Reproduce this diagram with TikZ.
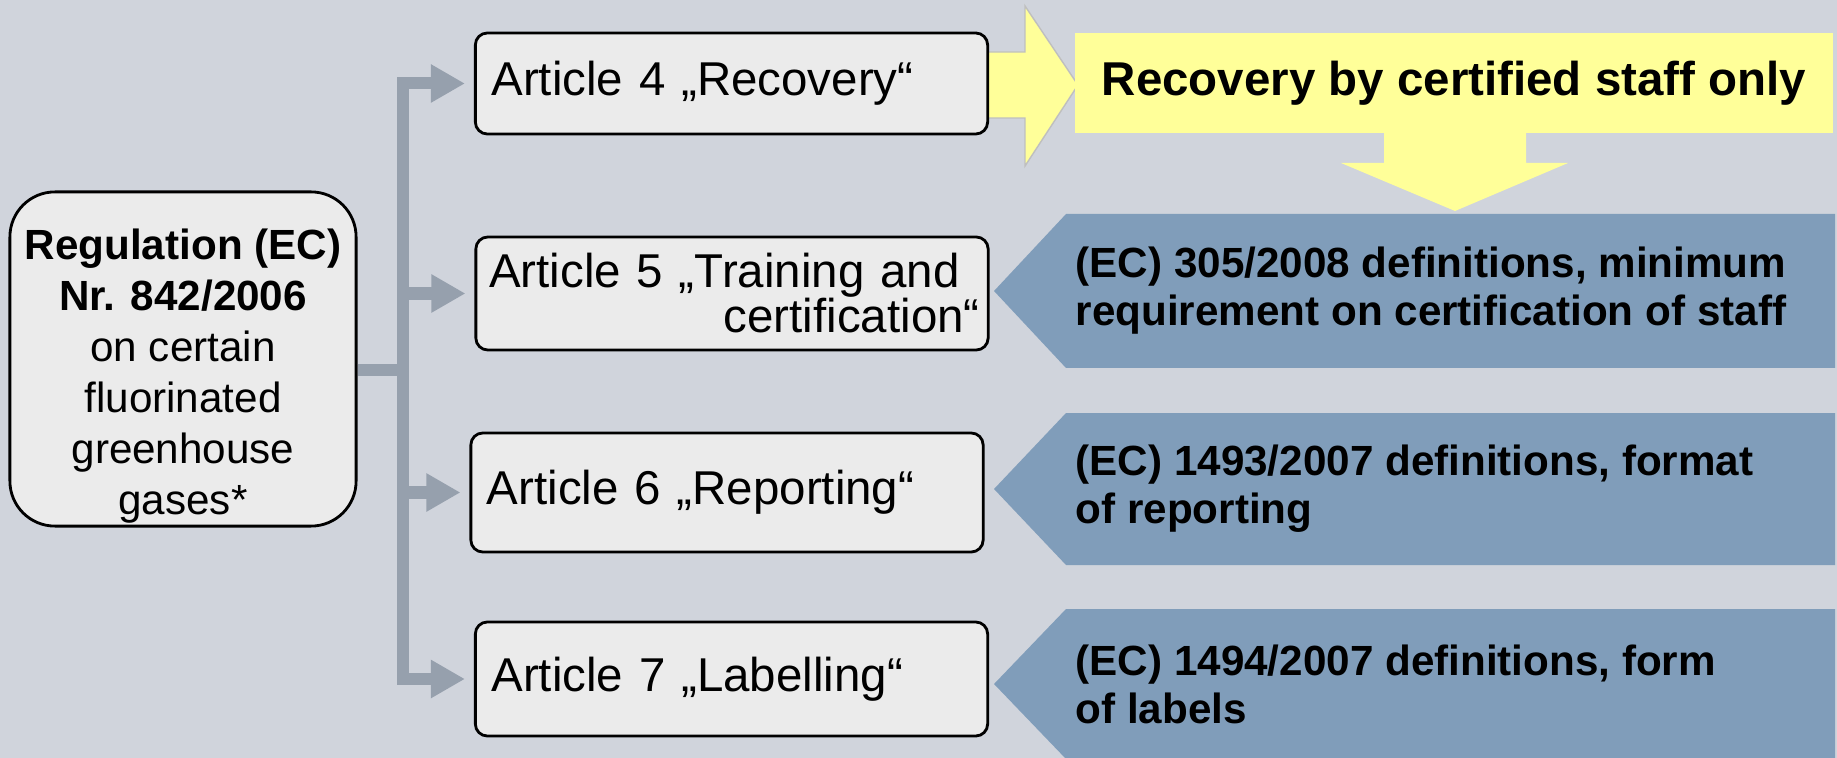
\documentclass[tikz,border=0pt]{standalone}
\usepackage{fontspec}
\setmainfont{Liberation Sans}
\usetikzlibrary{arrows.meta,positioning}

\definecolor{bgcol}{RGB}{208,212,220}
\definecolor{boxgray}{RGB}{235,235,235}
\definecolor{linkgray}{RGB}{150,160,173}
\definecolor{defblue}{RGB}{128,157,186}
\definecolor{noteyellow}{RGB}{255,255,153}

\begin{document}
\begin{tikzpicture}[x=0.01cm,y=-0.01cm]
			\tikzstyle{Reg}		= [draw, line width=0.8pt, rounded corners=0.45cm, fill=boxgray, minimum width=3.46cm, minimum height=3.34cm]
			\tikzstyle{RegText}	= [align=center, inner sep=0pt, font=\fontsize{12}{14.5}\selectfont]
			\tikzstyle{Article}	= [draw, line width=0.8pt, rounded corners=0.12cm, fill=boxgray, minimum width=5.12cm, text width=4.8cm, inner xsep=0.16cm, font=\fontsize{13.5}{12.8}\selectfont]
			\tikzstyle{Branch}	= [line width=0.12cm, linkgray, -{Triangle[length=0.34cm,width=0.36cm]}, shorten >=0.09cm]
			\tikzstyle{Trunk}	= [line width=0.12cm, linkgray]
			\tikzstyle{Staff}	= [fill=noteyellow, minimum width=7.58cm, minimum height=1.0cm, font=\bfseries\fontsize{13.5}{16}\selectfont]
			\tikzstyle{Pointer}	= [fill=noteyellow, draw=black!25, line width=0.4pt]
			\tikzstyle{Def}		= [fill=defblue]
			\tikzstyle{DefText}	= [anchor=west, align=left, inner sep=0pt, font=\bfseries\fontsize{12}{13.7}\selectfont]

			% background
			\fill [bgcol] (0,0) rectangle (1837,758);
			\useasboundingbox (0,0) rectangle (1837,758);

			% blue pointers
			\fill [Def] (994,291) -- (1066,214) -- (1835,214) -- (1835,368) -- (1066,368) -- cycle;
			\fill [Def] (994,489) -- (1066,413) -- (1835,413) -- (1835,565) -- (1066,565) -- cycle;
			\fill [Def] (994,684) -- (1066,609) -- (1835,609) -- (1835,759) -- (1066,759) -- cycle;

			% yellow arrows
			\filldraw [Pointer] (988,52) -- (1025,52) -- (1025,6) -- (1078,85) -- (1025,166) -- (1025,118) -- (988,118) -- cycle;
			\fill [noteyellow] (1384,130) -- (1526,130) -- (1526,163) -- (1568,163) -- (1455,211) -- (1341,163) -- (1384,163) -- cycle;

			\node (staff) at (1454,83) [Staff] {Recovery by certified staff only};

			\node (reg) at (183,359) [Reg] {};
			\node (regtext) at (183,376) [RegText] {\textbf{Regulation (EC)}\\\textbf{Nr. 842/2006}\\on certain\\fluorinated\\greenhouse\\gases*};

			\node (art4) at (731.5,83.5) [Article, minimum height=1.01cm, align=left] {Article 4 „Recovery“};
			\node (art5) at (732,293.5) [Article, minimum height=1.13cm, text width=4.95cm, inner xsep=0.085cm, align=right] {\mbox{Article 5 „Training and}\kern0.2cm\\certification“};
			\node (art6) at (727,492.5) [Article, minimum height=1.19cm, align=left] {Article 6 „Reporting“};
			\node (art7) at (731.5,679) [Article, minimum height=1.14cm, align=left] {Article 7 „Labelling“};

			\node (def5) at (1075,291) [DefText] {(EC) 305/2008 definitions, minimum\\requirement on certification of staff};
			\node (def6) at (1075,489) [DefText] {(EC) 1493/2007 definitions, format\\of reporting};
			\node (def7) at (1075,684) [DefText] {(EC) 1494/2007 definitions, form\\of labels};

			% connectors
			\coordinate (hub) at (402.5,370);
			\draw [Trunk] (reg.east |- hub) to (hub);
			\draw (hub) |- (art4) [Branch];
			\draw (hub) |- (art5) [Branch];
			\draw (hub) |- (art6) [Branch];
			\draw (hub) |- (art7) [Branch];
\end{tikzpicture}
\end{document}
